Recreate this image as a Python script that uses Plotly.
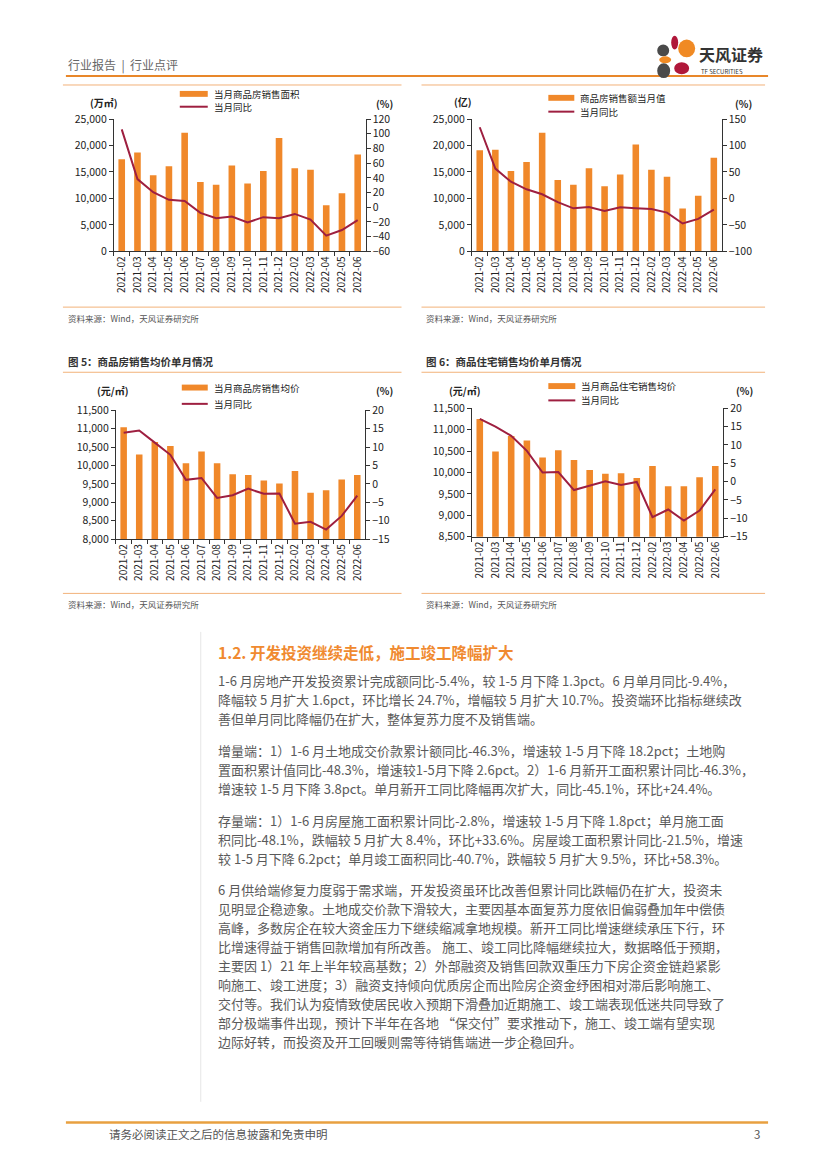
import plotly.graph_objects as go

# ---------------- data ----------------
months = ["2021-02", "2021-03", "2021-04", "2021-05", "2021-06", "2021-07", "2021-08", "2021-09",
          "2021-10", "2021-11", "2021-12", "2022-02", "2022-03", "2022-04", "2022-05", "2022-06"]

area = [17400, 18700, 14400, 16100, 22400, 13100, 12600, 16200, 12800, 15200, 21400, 15700, 15400, 8700, 11000, 18300]
area_yoy = [106, 38.3, 20.4, 10.1, 8.4, -7.7, -14.9, -12.6, -20.7, -13.5, -14.9, -9.1, -16.7, -38.6, -31.0, -17.6]

amount = [19100, 19200, 15200, 16900, 22400, 13500, 12600, 15700, 12300, 14500, 20200, 15400, 14100, 8100, 10500, 17700]
amount_yoy = [134.5, 56.3, 31.5, 17.2, 7.9, -7.0, -18.7, -16.3, -23.7, -16.9, -18.7, -20.0, -26.8, -47.3, -38.6, -21.2]

price = [11040, 10300, 10640, 10530, 10060, 10380, 10060, 9760, 9740, 9590, 9510, 9850, 9260, 9330, 9620, 9740]
price_yoy = [13.9, 14.5, 11.2, 7.9, 1.1, 1.6, -3.8, -3.1, -1.3, -2.7, -2.6, -10.8, -10.3, -12.4, -8.7, -3.2]

res_price = [11250, 10490, 10850, 10750, 10350, 10520, 10290, 10060, 9970, 9980, 9870, 10150, 9680, 9680, 9890, 10150]
res_yoy = [17.1, 15.0, 12.5, 8.4, 2.5, 2.6, -2.3, -1.2, 0.1, -0.9, -0.1, -9.7, -7.6, -10.6, -7.9, -2.1]

bar_names = ["当月商品房销售面积", "商品房销售额当月值", "当月商品房销售均价", "当月商品住宅销售均价"]
line_name = "当月同比"
left_units = ["(万㎡)", "(亿)", "(元/㎡)", "(元/㎡)"]
left_ranges = [[0, 25000], [0, 25000], [8000, 11500], [8500, 11500]]
left_dticks = [5000, 5000, 500, 500]
right_ranges = [[-60, 120], [-100, 150], [-15, 20], [-15, 20]]
right_dticks = [20, 50, 5, 5]
fig_titles = ["图 5：商品房销售均价单月情况", "图 6：商品住宅销售均价单月情况"]
source_text = "资料来源：Wind，天风证券研究所"

para_heading = "1.2. 开发投资继续走低，施工竣工降幅扩大"
paragraphs = [
    ["1-6 月房地产开发投资累计完成额同比-5.4%，较 1-5 月下降 1.3pct。6 月单月同比-9.4%，",
     "降幅较 5 月扩大 1.6pct，环比增长 24.7%，增幅较 5 月扩大 10.7%。投资端环比指标继续改",
     "善但单月同比降幅仍在扩大，整体复苏力度不及销售端。"],
    ["增量端：1）1-6 月土地成交价款累计额同比-46.3%，增速较 1-5 月下降 18.2pct；土地购",
     "置面积累计值同比-48.3%，增速较1-5月下降 2.6pct。2）1-6 月新开工面积累计同比-46.3%，",
     "增速较 1-5 月下降 3.8pct。单月新开工同比降幅再次扩大，同比-45.1%，环比+24.4%。"],
    ["存量端：1）1-6 月房屋施工面积累计同比-2.8%，增速较 1-5 月下降 1.8pct；单月施工面",
     "积同比-48.1%，跌幅较 5 月扩大 8.4%，环比+33.6%。房屋竣工面积累计同比-21.5%，增速",
     "较 1-5 月下降 6.2pct；单月竣工面积同比-40.7%，跌幅较 5 月扩大 9.5%，环比+58.3%。"],
    ["6 月供给端修复力度弱于需求端，开发投资虽环比改善但累计同比跌幅仍在扩大，投资未",
     "见明显企稳迹象。土地成交价款下滑较大，主要因基本面复苏力度依旧偏弱叠加年中偿债",
     "高峰，多数房企在较大资金压力下继续缩减拿地规模。新开工同比增速继续承压下行，环",
     "比增速得益于销售回款增加有所改善。 施工、竣工同比降幅继续拉大，数据略低于预期，",
     "主要因 1）21 年上半年较高基数；2）外部融资及销售回款双重压力下房企资金链趋紧影",
     "响施工、竣工进度；3）融资支持倾向优质房企而出险房企资金纾困相对滞后影响施工、",
     "交付等。我们认为疫情致使居民收入预期下滑叠加近期施工、竣工端表现低迷共同导致了",
     "部分极端事件出现，预计下半年在各地 “保交付”要求推动下，施工、竣工端有望实现",
     "边际好转，而投资及开工回暖则需等待销售端进一步企稳回升。"],
]

# ---------------- helpers ----------------
W, H = 827, 1169
FONT = "Noto Sans CJK SC"
BAR_C = "#F0882A"
LINE_C = "#9E1F40"
AX_C = "#333333"


def px(x):
    return x / W


def py(y):
    return 1 - y / H


bars = [area, amount, price, res_price]
lines = [area_yoy, amount_yoy, price_yoy, res_yoy]

# plot boxes (left, right, top, bottom) in pixels
boxes = [(113, 365, 112.5, 246.5), (471.5, 721.5, 112.5, 246.5),
         (115, 364.5, 407.5, 538), (471.5, 723, 405.5, 535.5)]

fig = go.Figure()
layout = {}
for i in range(4):
    n = i + 1
    xa = "x" if n == 1 else f"x{n}"
    yl = 2 * n - 1
    yr = 2 * n
    yla = "y" if yl == 1 else f"y{yl}"
    yra = f"y{yr}"
    fig.add_trace(go.Bar(x=months, y=bars[i], xaxis=xa, yaxis=yla, marker_color=BAR_C,
                         marker_line_width=0, name=bar_names[i], showlegend=False))
    fig.add_trace(go.Scatter(x=months, y=lines[i], xaxis=xa, yaxis=yra, mode="lines",
                             line=dict(color=LINE_C, width=2), name=line_name, showlegend=False))
    l, r, t, b = boxes[i]
    xkey = "xaxis" if n == 1 else f"xaxis{n}"
    ylkey = "yaxis" if yl == 1 else f"yaxis{yl}"
    yrkey = f"yaxis{yr}"
    layout[xkey] = dict(domain=[px(l), px(r)], anchor=yla, type="category", range=[-0.5, 15.5],
                        showline=True, linecolor=AX_C, linewidth=1, ticks="outside", tickson="boundaries",
                        ticklen=4, tickcolor=AX_C, tickangle=-90, showgrid=False, zeroline=False,
                        tickfont=dict(family=FONT, size=10, color="#222"))
    layout[ylkey] = dict(domain=[py(b), py(t)], anchor=xa, range=left_ranges[i], dtick=left_dticks[i],
                         tickformat=",", showline=True, linecolor=AX_C, linewidth=1, ticks="outside",
                         ticklen=4, tickcolor=AX_C, showgrid=False, zeroline=False,
                         tickfont=dict(family=FONT, size=10.5, color="#222"))
    layout[yrkey] = dict(overlaying=yla, side="right", anchor=xa, range=right_ranges[i], dtick=right_dticks[i],
                         showline=True, linecolor=AX_C, linewidth=1, ticks="outside", ticklen=4,
                         tickcolor=AX_C, showgrid=False, zeroline=False,
                         tickfont=dict(family=FONT, size=10.5, color="#222"))

shapes = []
annotations = []


def hline(x0, x1, y, color, width):
    shapes.append(dict(type="line", xref="paper", yref="paper", x0=px(x0), x1=px(x1), y0=py(y), y1=py(y),
                       line=dict(color=color, width=width)))


def text(x, y, s, size, color="#333", anchor="left", bold=False, family=FONT):
    if bold:
        s = "<b>" + s + "</b>"
    annotations.append(dict(xref="paper", yref="paper", x=px(x), y=py(y), text=s, showarrow=False,
                            xanchor=anchor, yanchor="middle", borderpad=0,
                            font=dict(family=family, size=size, color=color)))


# header
text(66, 58, "行业报告  |  行业点评", 12, "#666")
hline(65, 768, 69, "#E8872A", 2)
# logo petals
petals = [(671, 678, 28, 42, "#B0173A"), (657, 669, 37, 49, "#4A4A4A"), (678, 695, 32, 50, "#F08A24"),
          (659, 671, 49, 56, "#F08A24"), (674, 689, 55, 67, "#B0173A"), (657, 670, 56, 71, "#4A4A4A")]
for x0, x1, y0, y1, c in petals:
    shapes.append(dict(type="circle", xref="paper", yref="paper", x0=px(x0), x1=px(x1), y0=py(y1), y1=py(y0),
                       fillcolor=c, line=dict(width=0)))
text(698, 47, "天风证券", 16, "#333", bold=True)
text(700, 64, "TF SECURITIES", 6, "#333")

# panel frames
PANEL_C = "#F2B27A"
hline(62, 401, 78, PANEL_C, 1)
hline(421, 765, 78, PANEL_C, 1)
hline(62, 401, 303, PANEL_C, 1)
hline(421, 765, 303, PANEL_C, 1)
text(66, 314, source_text, 8.5, "#555")
text(425, 314, source_text, 8.5, "#555")

text(66, 358, fig_titles[0], 10.5, "#333", bold=True)
text(425, 358, fig_titles[1], 10.5, "#333", bold=True)
hline(62, 401, 369, PANEL_C, 1)
hline(421, 765, 369, PANEL_C, 1)
hline(62, 401, 593, PANEL_C, 1)
hline(421, 765, 593, PANEL_C, 1)
text(66, 604, source_text, 8.5, "#555")
text(425, 604, source_text, 8.5, "#555")

# legends + unit labels
leg = [(179, 207, 87, 100), (548, 574, 91, 105), (181, 207, 384.5, 401), (548, 575, 383, 397.5)]
units = [(88, 96), (453, 95), (95, 387), (448, 387)]
pct = [(384, 97), (743, 97), (384, 387), (744, 387)]
for i in range(4):
    x0, x1, yb, yl = leg[i]
    shapes.append(dict(type="rect", xref="paper", yref="paper", x0=px(x0), x1=px(x1), y0=py(yb + 3),
                       y1=py(yb - 3), fillcolor=BAR_C, line=dict(width=0)))
    hline(x0, x1, yl, LINE_C, 2)
    text(x1 + 5, yb, bar_names[i], 9.5, "#222")
    text(x1 + 5, yl, line_name, 9.5, "#222")
    text(units[i][0], units[i][1], left_units[i], 10, "#222", bold=True)
    text(pct[i][0], pct[i][1], "(%)", 10, "#222", bold=True, anchor="center")

# body text
shapes.append(dict(type="line", xref="paper", yref="paper", x0=px(200), x1=px(200), y0=py(632), y1=py(1108),
                   line=dict(color="#E6E6E6", width=1)))
text(216, 652, para_heading, 15.5, "#F08A30", bold=True)
para_starts = [681, 752, 823, 893]
LH = 19.3
for p, y0 in zip(paragraphs, para_starts):
    for k, ln in enumerate(p):
        text(216, y0 + k * LH, ln, 13, "#5a5a5a")

# footer
hline(65, 768, 1129, "#E8A040", 2.5)
text(107, 1141, "请务必阅读正文之后的信息披露和免责申明", 11.5, "#555")
text(761, 1141, "3", 11.5, "#555", anchor="right")

fig.update_layout(**layout)
fig.update_layout(width=W, height=H, margin=dict(l=0, r=0, t=0, b=0), paper_bgcolor="white",
                  plot_bgcolor="white", bargap=0.58, showlegend=False, shapes=shapes, annotations=annotations,
                  font=dict(family=FONT))

fig.write_html("out.html", config={"displayModeBar": False},
               post_script="document.body.style.margin='0px';")
